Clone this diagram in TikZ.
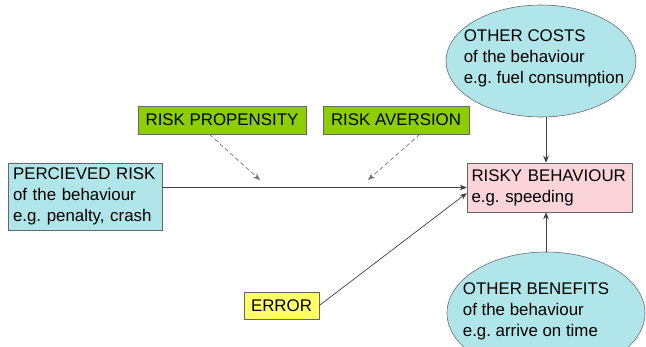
\documentclass[tikz,border=0pt]{standalone}
\usepackage{fontspec}
\setmainfont{Liberation Sans}
\usepackage{xcolor}
\usetikzlibrary{arrows.meta,shapes.geometric}
\definecolor{lcyan}{RGB}{176,230,234}
\definecolor{lgreen}{RGB}{140,206,0}
\definecolor{lyellow}{RGB}{255,255,102}
\definecolor{lpink}{RGB}{250,212,216}
\frenchspacing
\begin{document}
\begin{tikzpicture}[>={Stealth[length=5pt,width=4pt]},
  box/.style={draw=black!60,rectangle,align=left,inner sep=3pt,font=\fontsize{12}{15}\selectfont},
  oval/.style={draw=black!60,ellipse,fill=lcyan},
  arr/.style={->,draw=black!75,line width=0.5pt}]
\useasboundingbox(0,0)rectangle(16.15,8.65);
\clip(0,0)rectangle(16.15,8.65);
% ovals
\node[oval,minimum width=4.75cm,minimum height=2.8cm](costs)at(13.525,7.125){};
\node[box,draw=none](coststxt)at(13.6,7.2){OTHER COSTS\\of the behaviour\\e.g. fuel consumption};
\node[oval,minimum width=4.95cm,minimum height=3.05cm](benefits)at(13.65,0.825){};
\node[box,draw=none](benefitstxt)at(13.4,0.875){OTHER BENEFITS\\of the behaviour\\e.g. arrive on time};
% boxes
\node[box,fill=lcyan,minimum width=3.85cm,minimum height=1.675cm,text width=3.6cm](perceived)at(2.125,3.7375){PERCIEVED RISK\\of the behaviour\\e.g. penalty, crash};
\node[box,fill=lgreen,minimum width=4.2cm,minimum height=0.7cm,align=center](propensity)at(5.55,5.65){RISK PROPENSITY};
\node[box,fill=lgreen,minimum width=3.65cm,minimum height=0.7cm,align=center](aversion)at(9.9,5.65){RISK AVERSION};
\node[box,fill=lyellow,minimum width=1.875cm,minimum height=0.675cm,align=center](error)at(7.0375,1.0125){ERROR};
\node[box,fill=lpink,minimum width=4.125cm,minimum height=1.225cm,text width=3.9cm](risky)at(13.7375,3.9625){RISKY BEHAVIOUR\\e.g. speeding};
% arrows
\coordinate(m1)at(6.5,4.15);
\coordinate(m2)at(9.2,4.15);
\draw[arr](perceived.east|-risky.west)--(risky.west);
\draw[arr](error.east)--([yshift=-4pt]risky.west);
\draw[arr](costs.south-|benefits.north)--(benefits.north|-risky.north);
\draw[arr](benefits.north)--(benefits.north|-risky.south);
\draw[arr,densely dashed,draw=black!55]([xshift=-9pt]propensity.south)--(m1);
\draw[arr,densely dashed,draw=black!55]([xshift=17pt]aversion.south)--(m2);
\end{tikzpicture}
\end{document}
